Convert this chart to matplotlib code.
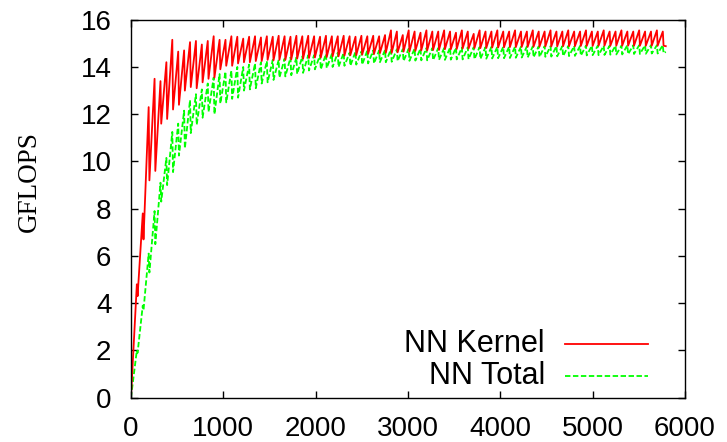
import numpy as np
import matplotlib
matplotlib.use('Agg')
import matplotlib.pyplot as plt

# matrix sizes: one tooth of the sawtooth every 64
tooth_x = np.arange(64, 5761, 64)
end_x = 5792

# NN Kernel: value at each tooth top, and just after the drop
kernel_peak = [4.8, 7.8, 12.3, 13.5, 13.4, 14.2, 15.15, 14.65, 14.7, 15.05,
               15.1, 14.95, 15.1, 15.3, 15.15, 15.15, 15.3, 15.28, 15.2, 15.28,
               15.3, 15.25, 15.3, 15.28, 15.32, 15.3, 15.28, 15.32, 15.3, 15.32,
               15.3, 15.28, 15.32, 15.3, 15.3, 15.32, 15.3, 15.28, 15.32, 15.3,
               15.32, 15.3, 15.35, 15.55, 15.5, 15.35, 15.55, 15.5, 15.45, 15.55,
               15.5, 15.5, 15.55, 15.5, 15.45, 15.55, 15.5, 15.4, 15.55, 15.5,
               15.5, 15.55, 15.5, 15.5, 15.55, 15.5, 15.5, 15.55, 15.5, 15.5,
               15.55, 15.5, 15.5, 15.55, 15.5, 15.5, 15.55, 15.5, 15.5, 15.55,
               15.5, 15.5, 15.55, 15.5, 15.5, 15.55, 15.5, 15.5, 15.55, 15.5]
kernel_trough = [4.3, 6.7, 9.2, 9.6, 11.6, 11.8, 12.2, 12.4, 13.0, 13.15,
                 13.1, 13.35, 13.5, 13.55, 13.9, 14.05, 14.05, 14.15, 14.2, 14.2,
                 14.25, 14.25, 14.3, 14.28, 14.3, 14.3, 14.32, 14.35, 14.35, 14.38,
                 14.4, 14.4, 14.42, 14.45, 14.45, 14.48, 14.5, 14.5, 14.52, 14.55,
                 14.55, 14.58, 14.6, 14.6, 14.62, 14.65, 14.65, 14.68, 14.7, 14.7,
                 14.72, 14.72, 14.75, 14.75, 14.76, 14.78, 14.78, 14.8, 14.8, 14.8,
                 14.82, 14.82, 14.83, 14.84, 14.84, 14.85, 14.85, 14.86, 14.86, 14.87,
                 14.87, 14.87, 14.88, 14.88, 14.88, 14.89, 14.89, 14.89, 14.9, 14.9,
                 14.9, 14.9, 14.9, 14.9, 14.9, 14.9, 14.9, 14.9, 14.9, 14.9]
kernel_end = 14.88

# NN Total
total_peak = [2.0, 3.9, 6.1, 7.9, 9.1, 10.15, 11.25, 11.6, 12.15, 12.6,
              12.85, 13.05, 13.3, 13.55, 13.7, 13.8, 13.85, 14.0, 14.0, 14.1,
              14.15, 14.2, 14.25, 14.3, 14.3, 14.35, 14.4, 14.4, 14.45, 14.5,
              14.5, 14.5, 14.55, 14.55, 14.6, 14.6, 14.6, 14.65, 14.65, 14.7,
              14.7, 14.7, 14.72, 14.75, 14.75, 14.75, 14.77, 14.78, 14.78, 14.8,
              14.8, 14.8, 14.8, 14.82, 14.82, 14.82, 14.83, 14.83, 14.84, 14.84,
              14.85, 14.85, 14.85, 14.86, 14.86, 14.86, 14.87, 14.87, 14.87, 14.88,
              14.88, 14.88, 14.88, 14.89, 14.89, 14.89, 14.9, 14.9, 14.9, 14.9,
              14.9, 14.9, 14.9, 14.92, 14.92, 14.92, 14.92, 14.92, 14.92, 14.92]
total_trough = [1.9, 3.7, 5.3, 6.5, 8.3, 9.0, 9.55, 10.25, 10.55, 11.2,
                11.55, 11.85, 12.1, 12.0, 12.45, 12.5, 12.65, 12.7, 13.0, 13.05,
                13.1, 13.3, 13.35, 13.45, 13.55, 13.6, 13.65, 13.7, 13.75, 13.85,
                13.9, 13.9, 13.95, 14.0, 14.0, 14.05, 14.05, 14.1, 14.1, 14.15,
                14.15, 14.2, 14.2, 14.22, 14.25, 14.25, 14.26, 14.27, 14.28, 14.28,
                14.29, 14.3, 14.3, 14.31, 14.32, 14.32, 14.33, 14.33, 14.34, 14.35,
                14.36, 14.37, 14.37, 14.38, 14.39, 14.4, 14.4, 14.41, 14.42, 14.43,
                14.44, 14.45, 14.46, 14.46, 14.47, 14.48, 14.49, 14.5, 14.5, 14.51,
                14.52, 14.53, 14.53, 14.54, 14.55, 14.55, 14.56, 14.57, 14.57, 14.58]
total_end = 14.64

labels = ['NN Kernel', 'NN Total']
x_ticks = [0, 1000, 2000, 3000, 4000, 5000, 6000]
y_ticks = [0, 2, 4, 6, 8, 10, 12, 14, 16]


def build_series(peaks, troughs, last):
    xs, ys = [0], [0.0]
    for tx, p, t in zip(tooth_x, peaks, troughs):
        xs += [tx, tx + 8]
        ys += [p, t]
    xs.append(end_x)
    ys.append(last)
    return xs, ys


plt.rcParams['font.family'] = ['Liberation Sans', 'DejaVu Sans']

fig = plt.figure(figsize=(7.27, 4.42), dpi=100)
ax = fig.add_axes([0.1801, 0.1002, 0.7621, 0.8552])

dash = (0, (3.0, 1.4))
kx, ky = build_series(kernel_peak, kernel_trough, kernel_end)
gx, gy = build_series(total_peak, total_trough, total_end)
ax.plot(gx, gy, color='#00ff00', lw=1.3, linestyle=dash)
ax.plot(kx, ky, color='#ff0000', lw=1.3)

ax.set_xlim(0, 6000)
ax.set_ylim(0, 16)
ax.set_xticks(x_ticks)
ax.set_yticks(y_ticks)
ax.tick_params(direction='in', length=5, width=1.0, top=True, right=True,
               labelsize=20)
ax.tick_params(axis='y', pad=14)
ax.tick_params(axis='x', pad=13)
for s in ax.spines.values():
    s.set_linewidth(1.0)

ax.set_ylabel('GFLOPS', family='Liberation Serif', fontsize=19.5)
ax.yaxis.set_label_coords(-0.160, 0.571)

# gnuplot style key: text right aligned, sample to the right
key_y = [0.142, 0.058]
key_styles = [dict(color='#ff0000', lw=1.3),
              dict(color='#00ff00', lw=1.3, linestyle=dash)]
for lab, yy, st in zip(labels, key_y, key_styles):
    ax.text(0.7473, yy, lab, transform=ax.transAxes, ha='right', va='center',
            fontsize=22)
    ax.plot([0.7834, 0.9332], [yy, yy], transform=ax.transAxes, **st)

fig.savefig('out.png', dpi=100)
